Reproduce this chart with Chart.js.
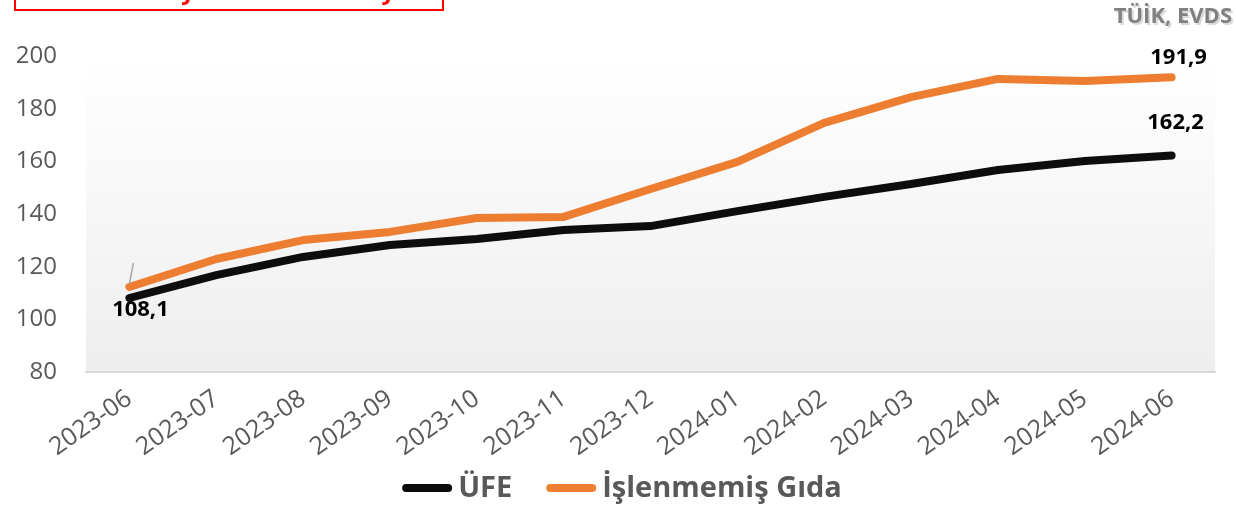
<!DOCTYPE html>
<html>
<head>
<meta charset="utf-8">
<script src="https://cdn.jsdelivr.net/npm/chart.js@4.4.1/dist/chart.umd.min.js"></script>
<style>
  html, body { margin: 0; padding: 0; background: #fff; }
  #wrap { width: 1236px; height: 508px; position: relative; }
</style>
</head>
<body>
<div id="wrap"><canvas id="myChart"></canvas></div>
<script>
const months = ['2023-06', '2023-07', '2023-08', '2023-09', '2023-10', '2023-11', '2023-12',
                '2024-01', '2024-02', '2024-03', '2024-04', '2024-05', '2024-06'];
const ufe = [108.1, 116.8, 123.7, 128.2, 130.5, 133.9, 135.4, 141.1, 146.5, 151.4, 156.7, 160.1, 162.2];
const gida = [112.3, 122.9, 130.1, 133.2, 138.5, 138.9, 149.5, 159.8, 174.6, 184.4, 191.3, 190.5, 191.9];
const yTicks = [80, 100, 120, 140, 160, 180, 200];
const seriesNames = ['ÜFE', 'İşlenmemiş Gıda'];
const sourceText = 'TÜİK, EVDS';

const FONT = "'Open Sans', 'DejaVu Sans', sans-serif";

// gradient plot background
const plotBg = {
  id: 'plotBg',
  beforeDraw(chart) {
    const { ctx, chartArea: a } = chart;
    const g = ctx.createLinearGradient(0, a.top, 0, a.bottom);
    g.addColorStop(0, '#ffffff');
    g.addColorStop(1, '#eeeeee');
    ctx.save();
    ctx.fillStyle = g;
    ctx.fillRect(a.left, a.top - 10, a.right - a.left, a.bottom - a.top + 10);
    ctx.restore();
  }
};

// legend drawn under the rotated labels, like the original (they overlap a bit)
const bottomLegend = {
  id: 'bottomLegend',
  afterDraw(chart) {
    const { ctx } = chart;
    const sets = chart.data.datasets;
    const lineW = 50, gapText = 6, gapItem = 34, y = 488;
    ctx.save();
    ctx.font = 'bold 29px ' + FONT;
    const widths = sets.map(d => ctx.measureText(d.label).width);
    let total = 0;
    widths.forEach((w, i) => { total += lineW + gapText + w + (i ? gapItem : 0); });
    let x = 622 - total / 2;
    sets.forEach((d, i) => {
      ctx.strokeStyle = d.borderColor;
      ctx.lineWidth = 8;
      ctx.lineCap = 'round';
      ctx.beginPath();
      ctx.moveTo(x + 4, y);
      ctx.lineTo(x + lineW - 4, y);
      ctx.stroke();
      x += lineW + gapText;
      ctx.fillStyle = '#595959';
      ctx.textBaseline = 'middle';
      ctx.textAlign = 'left';
      ctx.fillText(d.label, x, y + 1);
      x += widths[i] + gapItem;
    });
    ctx.restore();
  }
};

// title box, source, value labels
const extras = {
  id: 'extras',
  afterDatasetsDraw(chart) {
    const { ctx } = chart;
    ctx.save();
    // red header box, its text is cut off by the top edge
    ctx.save();
    ctx.beginPath();
    ctx.rect(15, -10, 428, 20);
    ctx.clip();
    ctx.fillStyle = '#ff0000';
    ctx.font = 'bold 24px ' + FONT;
    ctx.textBaseline = 'alphabetic';
    ctx.textAlign = 'left';
    ctx.fillText('Üretici Fiyatları ve Gıda Fiyatları', 74, -1);
    ctx.restore();
    ctx.strokeStyle = '#ff0000';
    ctx.lineWidth = 2;
    ctx.strokeRect(15, -10, 428, 20);

    // source
    ctx.font = 'bold 22px ' + FONT;
    ctx.textAlign = 'right';
    ctx.textBaseline = 'middle';
    ctx.fillStyle = 'rgba(0,0,0,0.15)';
    ctx.fillText(sourceText, 1234, 19);
    ctx.fillStyle = '#808080';
    ctx.fillText(sourceText, 1232, 17);

    // value labels
    const m0 = chart.getDatasetMeta(0).data;
    const m1 = chart.getDatasetMeta(1).data;
    const last = months.length - 1;
    ctx.fillStyle = '#000';
    ctx.font = 'bold 22px ' + FONT;
    ctx.textAlign = 'center';
    ctx.fillText(ufe[0].toFixed(1).replace('.', ','), m0[0].x + 11, m0[0].y + 12);
    ctx.fillText(ufe[last].toFixed(1).replace('.', ','), m0[last].x + 4, m0[last].y - 33);
    ctx.fillText(gida[last].toFixed(1).replace('.', ','), m1[last].x + 7, m1[last].y - 20);

    // small leader line on the first orange point
    ctx.strokeStyle = '#a6a6a6';
    ctx.lineWidth = 1.5;
    ctx.beginPath();
    ctx.moveTo(m1[0].x, m1[0].y - 3);
    ctx.lineTo(m1[0].x + 4, m1[0].y - 24);
    ctx.stroke();
    ctx.restore();
  }
};

const options = {
  type: 'line',
  data: {
    labels: months,
    datasets: [{
        label: seriesNames[0],
        data: ufe,
        borderColor: '#0d0d0d',
        backgroundColor: '#0d0d0d',
        borderWidth: 8,
        borderCapStyle: 'round',
        borderJoinStyle: 'round',
        pointRadius: 0,
        tension: 0
      },
      {
        label: seriesNames[1],
        data: gida,
        borderColor: '#ed7d31',
        backgroundColor: '#ed7d31',
        borderWidth: 8,
        borderCapStyle: 'round',
        borderJoinStyle: 'round',
        pointRadius: 0,
        tension: 0
      }
    ]
  },
  options: {
    responsive: false,
    animation: false,
    devicePixelRatio: 1,
    layout: {
      padding: { top: 56, right: 21, left: 0, bottom: 0 }
    },
    plugins: {
      legend: { display: false },
      tooltip: { enabled: false }
    },
    scales: {
      y: {
        min: 80,
        max: 200,
        afterBuildTicks(axis) {
          axis.ticks = yTicks.map(v => ({ value: v }));
        },
        afterFit(axis) { axis.width = 86; },
        grid: { display: false, drawTicks: false },
        border: { display: false },
        ticks: {
          color: '#595959',
          padding: 29,
          font: { family: FONT, size: 24 }
        }
      },
      x: {
        offset: true,
        afterFit(axis) { axis.height = 136; },
        grid: { display: false, drawTicks: false },
        border: { display: true, color: '#d9d9d9', width: 2 },
        ticks: {
          color: '#595959',
          padding: 12,
          minRotation: 35,
          maxRotation: 35,
          autoSkip: false,
          font: { family: FONT, size: 25 }
        }
      }
    }
  },
  plugins: [plotBg, extras, bottomLegend]
};

const canvas = document.getElementById('myChart');
canvas.width = 1236;
canvas.height = 508;
new Chart(canvas.getContext('2d'), options);
</script>
</body>
</html>
